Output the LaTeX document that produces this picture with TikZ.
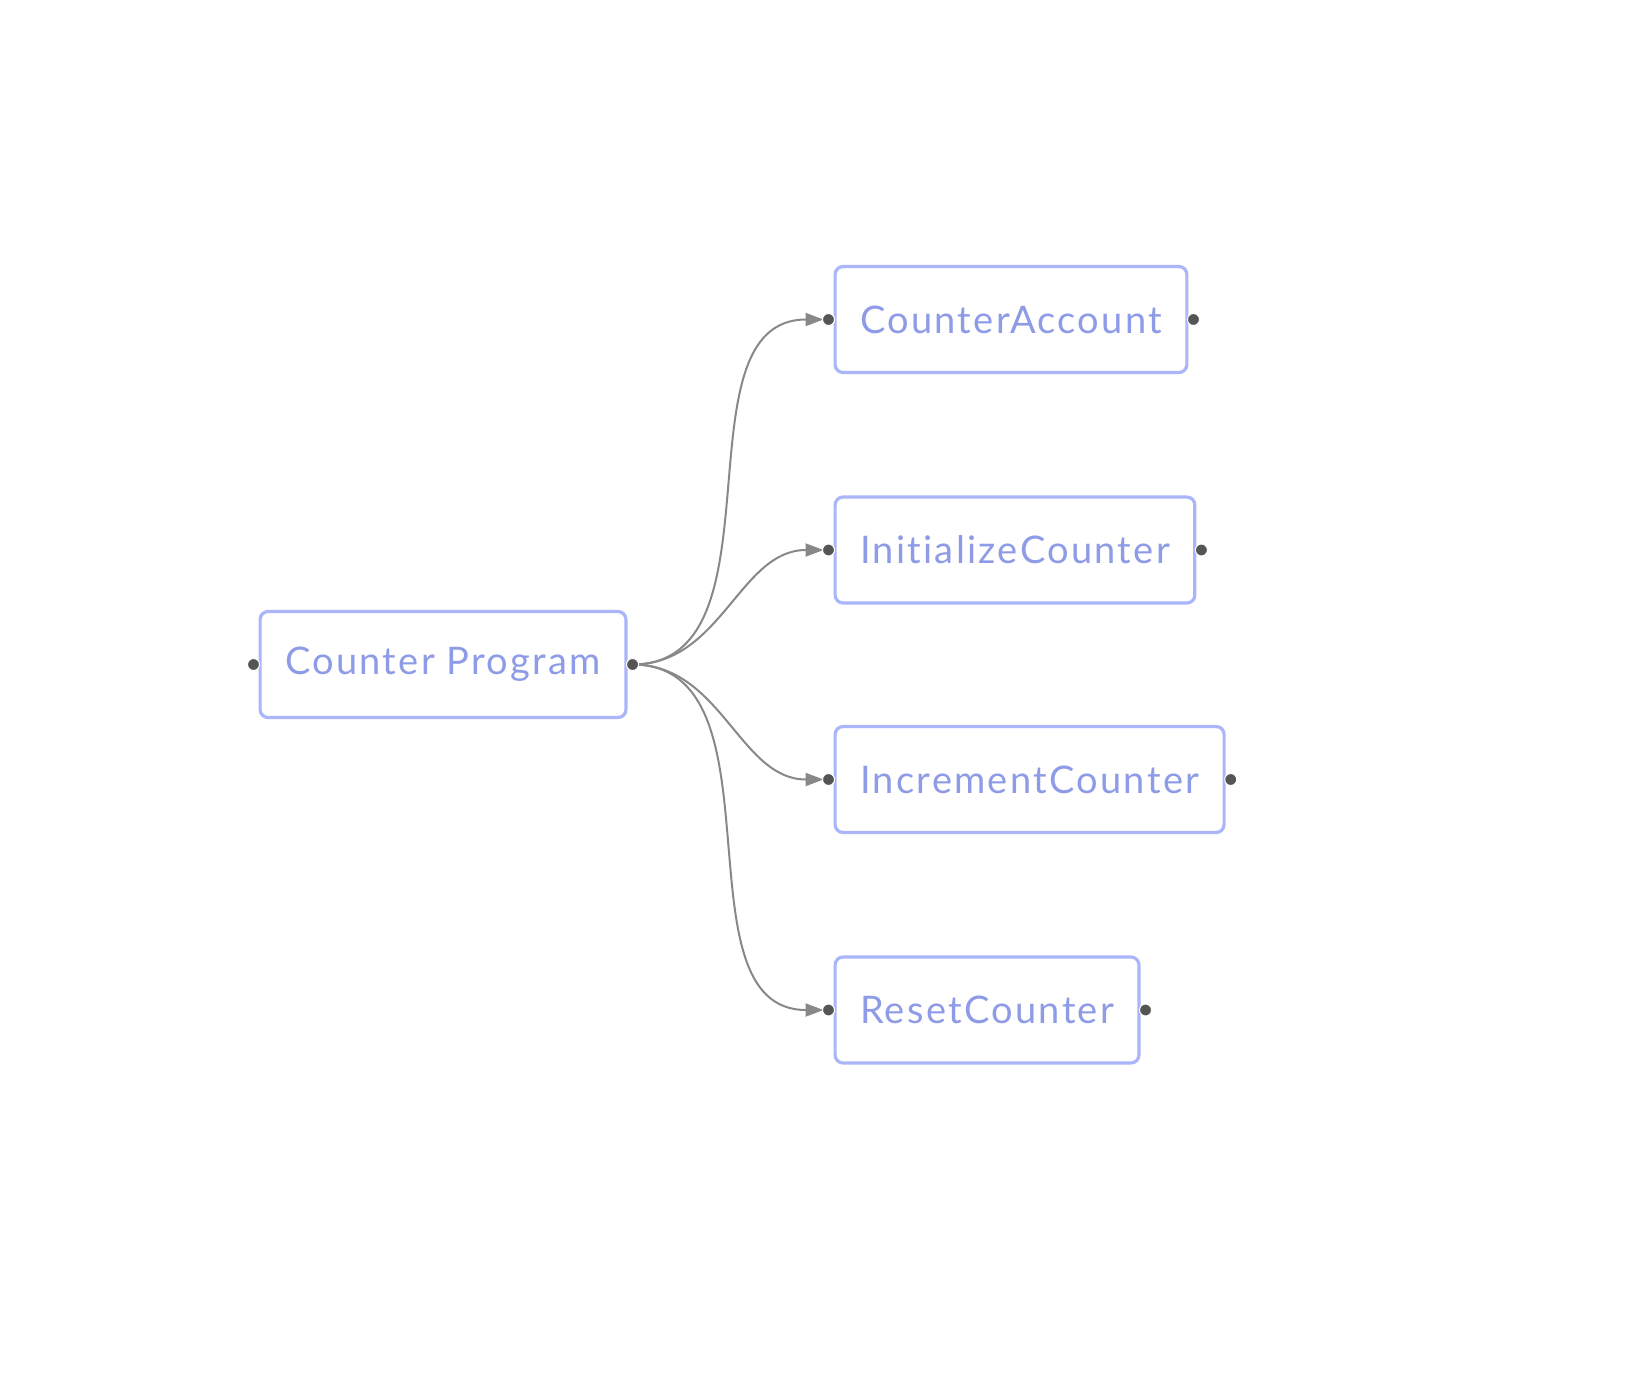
\documentclass[tikz,border=0pt]{standalone}
\usepackage{fontspec}
\setmainfont{Lato}[Ligatures=NoCommon,LetterSpace=6]
\usetikzlibrary{positioning,arrows.meta}

\definecolor{boxline}{RGB}{170,181,250}
\definecolor{boxtext}{RGB}{142,155,230}
\definecolor{dotgray}{RGB}{85,85,85}
\definecolor{linkgray}{RGB}{136,136,136}

\tikzset{
    topic/.style={draw=boxline, line width=3.2pt, rounded corners=8pt, fill=white,
        text=boxtext, font=\fontsize{38}{45}\selectfont, inner xsep=25pt,
        minimum height=106pt, anchor=west},
    port/.style={circle, fill=dotgray, draw=white, line width=1pt, inner sep=0pt, minimum size=12pt},
    link/.style={draw=linkgray, line width=2pt, shorten >=5pt,
        -{Triangle[length=18pt,width=13pt]}}
}

\begin{document}
\begin{tikzpicture}[x=1pt,y=-1pt]
    \useasboundingbox (0,0) rectangle (1627,1378);

    % root
    \node[topic] (prog) at (258.5,664.5) {Counter Program};

    % children
    \node[topic] (acct) at (833.5,319.5) {CounterAccount};
    \node[topic] (init) at (833.5,550) {InitializeCounter};
    \node[topic] (incr) at (833.5,779.5) {IncrementCounter};
    \node[topic] (rst) at (833.5,1010) {ResetCounter};

    % ports
    \node[port] (progL) at ([xshift=-5pt]prog.west) {};
    \node[port] (progR) at ([xshift=5pt]prog.east) {};
    \foreach \n in {acct,init,incr,rst} {
        \node[port] (\n L) at ([xshift=-5pt]\n.west) {};
        \node[port] (\n R) at ([xshift=5pt]\n.east) {};
    }

    % links
    \foreach \n in {acct,init,incr,rst}
        \draw[link] (progR.center) to[out=0,in=180] (\n L.center);
    \node[port] at (progR) {};
    \foreach \n in {acct,init,incr,rst}
        \node[port] at (\n L) {};
\end{tikzpicture}
\end{document}
